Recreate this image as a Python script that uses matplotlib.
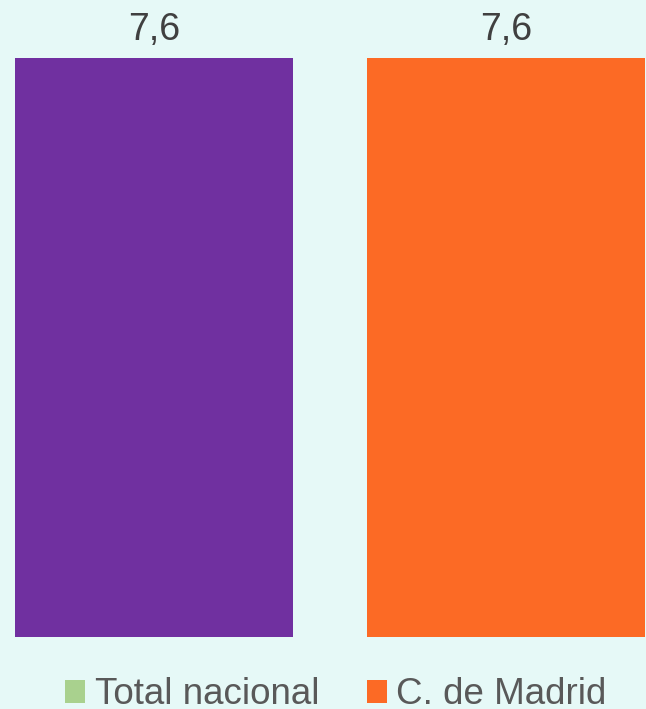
import matplotlib
matplotlib.use("Agg")
import matplotlib.pyplot as plt
from matplotlib.patches import Patch

# data
categories = ["Total nacional", "C. de Madrid"]
values = [7.6, 7.6]
value_labels = ["7,6", "7,6"]
bar_colors = ["#7030A0", "#FC6A25"]
legend_colors = ["#A9D18E", "#FC6A25"]

bg = "#E6F9F7"
plt.rcParams["font.family"] = ["Liberation Sans", "DejaVu Sans"]

fig = plt.figure(figsize=(6.46, 7.09), dpi=100, facecolor=bg)
# axes: baseline at y=637px, top (7.6) at y=58px
H = 709.0
ax = fig.add_axes([0, 1 - 637 / H, 1, (637 - 58) / H])
ax.set_facecolor(bg)

x = list(range(len(categories)))
width = 278 / 352
ax.bar(x, values, width=width, color=bar_colors)
for xi, v, lab in zip(x, values, value_labels):
    ax.text(xi, v + 0.13, lab, ha="center", va="bottom", fontsize=27,
            color="#404040", clip_on=False)

px = 1 / 352  # data units per pixel
ax.set_xlim(-width / 2 - 15 * px, 1 + width / 2 + 1 * px)
ax.set_ylim(0, max(values))
ax.axis("off")

handles = [Patch(facecolor=c, edgecolor="none") for c in legend_colors]
fig.legend(handles, categories, loc="center", bbox_to_anchor=(336 / 646, 1 - 695 / H),
           ncol=2, frameon=False, fontsize=26.5, labelcolor="#595959",
           handlelength=0.55, handleheight=0.55, handletextpad=0.25,
           columnspacing=1.3, borderpad=0, borderaxespad=0)

fig.savefig("out.png", dpi=100, facecolor=bg)
